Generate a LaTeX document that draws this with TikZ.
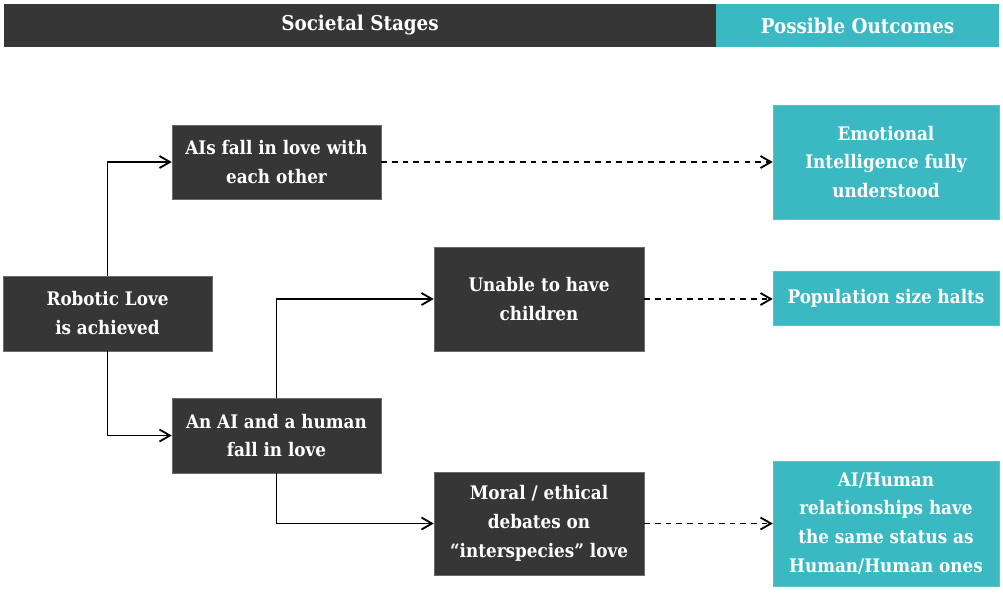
\documentclass[tikz,border=0pt]{standalone}
\usepackage{fontspec}
\setmainfont{DejaVu Serif Condensed}
\usetikzlibrary{arrows.meta}

\definecolor{stagegray}{HTML}{363636}
\definecolor{outteal}{HTML}{3BB9C2}

\begin{document}
\begin{tikzpicture}[
    stage/.style={fill=stagegray, draw=gray!70!stagegray, line width=0.4pt,
        text=white, align=center, inner sep=0pt, font=\bfseries\fontsize{13.3}{20.6}\selectfont},
    outcome/.style={stage, fill=outteal, draw=outteal!85!white},
    link/.style={line width=1.3pt, -{Straight Barb[length=2.6mm, width=3mm]}},
    hint/.style={link, dash pattern=on 4pt off 3.6pt}
]

\useasboundingbox (0,0) rectangle (25.075,-15.025);

% Header bar
\node[stage, draw=none, minimum width=17.8cm, minimum height=1.075cm,
    font=\bfseries\fontsize{14.5}{18}\selectfont] (hstages) at (9,-0.6375) {Societal Stages};
\node[outcome, draw=none, minimum width=7.075cm, minimum height=1.075cm,
    font=\bfseries\fontsize{14.5}{18}\selectfont] (houtcomes) at (21.4375,-0.6375) {Possible Outcomes};

% Societal stages
\node[stage, minimum width=5.225cm, minimum height=1.875cm] (robot) at (2.6875,-7.8375)
    {Robotic Love\\is achieved};
\node[stage, minimum width=5.225cm, minimum height=1.85cm] (aiai) at (6.9125,-4.05)
    {AIs fall in love with\\each other};
\node[stage, minimum width=5.225cm, minimum height=1.875cm] (aihuman) at (6.9125,-10.8875)
    {An AI and a human\\fall in love};
\node[stage, minimum width=5.25cm, minimum height=2.6cm] (nokids) at (13.475,-7.475)
    {Unable to have\\children};
\node[stage, minimum width=5.25cm, minimum height=2.575cm] (debate) at (13.475,-13.0875)
    {Moral / ethical\\debates on\\``interspecies'' love};

% Possible outcomes
\node[outcome, minimum width=5.65cm, minimum height=2.85cm] (emotion) at (22.15,-4.05)
    {Emotional\\Intelligence fully\\understood};
\node[outcome, minimum width=5.65cm, minimum height=1.35cm] (population) at (22.15,-7.45)
    {Population size halts};
\node[outcome, minimum width=5.65cm, minimum height=3.125cm] (status) at (22.15,-13.0875)
    {AI/Human\\relationships have\\the same status as\\Human/Human ones};

% Branches
\draw[link] (robot.north) |- (aiai.west);
\draw[link] (robot.south) |- (aihuman.west);
\draw[link] (aihuman.north) |- (nokids.west);
\draw[link] (aihuman.south) |- (debate.west);

% Outcomes
\draw[hint] (aiai.east) -- (aiai.east -| emotion.west);
\draw[hint] (nokids.east) -- (nokids.east -| population.west);
\draw[hint] (debate.east) -- (debate.east -| status.west);

\end{tikzpicture}
\end{document}
